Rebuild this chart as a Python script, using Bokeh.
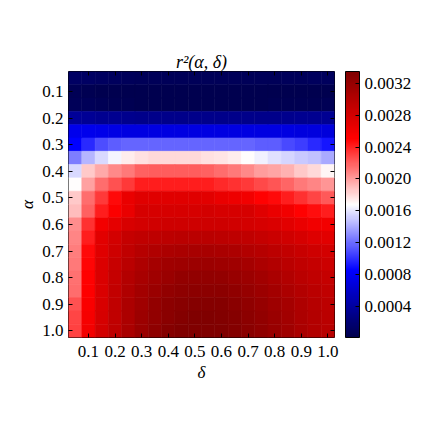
import numpy as np
import pandas as pd
from bokeh.plotting import figure
from bokeh.models import (ColumnDataSource, LinearColorMapper, ColorBar, FixedTicker,
                          PrintfTickFormatter, Range1d, LinearAxis)
from bokeh.transform import transform
from bokeh.embed import file_html
from bokeh.resources import INLINE

# ---- data ----
alphas = [0.05, 0.10, 0.15, 0.20, 0.25, 0.30, 0.35, 0.40, 0.45, 0.50,
          0.55, 0.60, 0.65, 0.70, 0.75, 0.80, 0.85, 0.90, 0.95, 1.00]
deltas = [0.05, 0.10, 0.15, 0.20, 0.25, 0.30, 0.35, 0.40, 0.45, 0.50,
          0.55, 0.60, 0.65, 0.70, 0.75, 0.80, 0.85, 0.90, 0.95, 1.00]
x_ticks = [0.1, 0.2, 0.3, 0.4, 0.5, 0.6, 0.7, 0.8, 0.9, 1.0]
y_ticks = [0.1, 0.2, 0.3, 0.4, 0.5, 0.6, 0.7, 0.8, 0.9, 1.0]
cbar_ticks = [0.0004, 0.0008, 0.0012, 0.0016, 0.0020, 0.0024, 0.0028, 0.0032]
cbar_low = 0.000005
cbar_high = 0.00335

# r^2 values in units of 1e-4, one row per alpha, one column per delta
r2_a005 = [1.2, 1.2, 1.0, 0.9, 0.8, 0.7, 0.6, 0.6, 0.6, 0.6, 0.6, 0.6, 0.6, 0.6, 0.7, 0.7, 0.8, 0.8, 0.9, 0.9]
r2_a010 = [0.5, 0.4, 0.3, 0.3, 0.2, 0.2, 0.2, 0.2, 0.2, 0.2, 0.2, 0.2, 0.2, 0.2, 0.2, 0.2, 0.2, 0.3, 0.3, 0.3]
r2_a015 = [0.7, 0.6, 0.5, 0.4, 0.4, 0.3, 0.3, 0.3, 0.3, 0.3, 0.3, 0.3, 0.3, 0.3, 0.3, 0.4, 0.4, 0.4, 0.4, 0.5]
r2_a020 = [3.6, 3.5, 3.3, 3.2, 3.1, 3.0, 3.0, 3.0, 3.0, 3.0, 3.0, 3.0, 3.0, 3.0, 3.0, 3.0, 3.1, 3.2, 3.3, 3.4]
r2_a025 = [7.6, 7.6, 7.4, 7.2, 7.1, 7.0, 7.0, 7.0, 7.0, 7.0, 7.0, 7.0, 7.0, 7.0, 7.0, 7.0, 7.0, 6.9, 6.9, 6.8]
r2_a030 = [8.5, 9.8, 11.0, 11.5, 11.8, 11.8, 11.8, 11.8, 11.8, 11.8, 11.8, 11.8, 11.8, 11.7, 11.5, 11.5, 10.8, 10.4, 9.8, 9.1]
r2_a035 = [12.5, 14.3, 15.5, 16.5, 17.3, 17.8, 18.0, 18.0, 18.0, 18.0, 17.8, 17.6, 17.3, 16.8, 16.3, 15.8, 15.4, 15.0, 14.7, 14.0]
r2_a040 = [15.5, 18.5, 19.6, 20.6, 21.2, 21.9, 22.1, 22.1, 22.1, 22.1, 21.9, 21.5, 21.2, 20.6, 20.0, 19.7, 19.3, 18.6, 18.0, 17.1]
r2_a045 = [16.8, 19.9, 21.6, 22.5, 23.3, 24.1, 24.1, 24.1, 24.1, 24.1, 24.1, 23.8, 23.5, 23.2, 22.7, 22.3, 21.8, 21.2, 20.8, 20.3]
r2_a050 = [18.6, 21.6, 23.2, 24.8, 26.5, 27.2, 27.2, 27.2, 27.2, 27.2, 27.0, 26.5, 26.2, 26.0, 25.1, 24.8, 24.1, 23.5, 22.8, 22.2]
r2_a055 = [18.9, 21.9, 24.1, 25.3, 26.5, 27.8, 27.8, 27.8, 27.8, 27.8, 28.0, 27.8, 27.8, 27.8, 27.2, 26.5, 26.0, 25.1, 24.7, 24.1]
r2_a060 = [20.5, 23.5, 25.8, 26.8, 27.7, 28.0, 28.2, 28.3, 28.3, 28.3, 28.3, 28.3, 28.2, 28.0, 27.8, 27.5, 27.0, 26.5, 26.0, 25.8]
r2_a065 = [20.8, 24.2, 27.0, 28.0, 28.8, 29.2, 29.4, 29.5, 29.6, 29.6, 29.6, 29.5, 29.4, 29.2, 28.9, 28.6, 28.2, 27.8, 27.3, 27.0]
r2_a070 = [21.0, 24.8, 27.2, 28.4, 29.3, 29.9, 30.3, 30.5, 30.7, 30.8, 30.8, 30.7, 30.5, 30.2, 29.9, 29.5, 29.1, 28.7, 28.3, 28.0]
r2_a075 = [21.2, 25.0, 27.4, 28.7, 29.7, 30.4, 30.9, 31.3, 31.5, 31.6, 31.6, 31.5, 31.3, 31.0, 30.6, 30.2, 29.7, 29.3, 28.9, 28.5]
r2_a080 = [21.4, 25.1, 27.5, 28.9, 30.0, 30.8, 31.4, 31.8, 32.1, 32.2, 32.2, 32.1, 31.9, 31.6, 31.2, 30.7, 30.2, 29.7, 29.3, 28.9]
r2_a085 = [21.6, 25.2, 27.6, 29.1, 30.3, 31.1, 31.8, 32.2, 32.5, 32.7, 32.7, 32.6, 32.4, 32.0, 31.6, 31.1, 30.6, 30.1, 29.6, 29.2]
r2_a090 = [22.5, 25.5, 27.7, 29.2, 30.5, 31.4, 32.1, 32.6, 32.9, 33.1, 33.1, 33.0, 32.8, 32.4, 32.0, 31.5, 31.0, 30.4, 29.9, 29.5]
r2_a095 = [22.8, 25.7, 27.8, 29.3, 30.6, 31.6, 32.3, 32.8, 33.2, 33.4, 33.4, 33.3, 33.1, 32.7, 32.3, 31.8, 31.2, 30.6, 30.1, 29.7]
r2_a100 = [23.0, 25.8, 27.9, 29.4, 30.7, 31.7, 32.5, 33.0, 33.4, 33.5, 33.5, 33.4, 33.2, 32.8, 32.4, 31.9, 31.3, 30.7, 30.2, 29.8]

r2_rows = [r2_a005, r2_a010, r2_a015, r2_a020, r2_a025, r2_a030, r2_a035, r2_a040,
           r2_a045, r2_a050, r2_a055, r2_a060, r2_a065, r2_a070, r2_a075, r2_a080,
           r2_a085, r2_a090, r2_a095, r2_a100]
R2_UNIT = 1e-4

# ---- seismic colormap ----
def seismic(n=256):
    stops = np.array([0.0, 0.25, 0.5, 0.75, 1.0])
    r = np.array([0.0, 0.0, 1.0, 1.0, 0.5])
    g = np.array([0.0, 0.0, 1.0, 0.0, 0.0])
    b = np.array([0.3, 1.0, 1.0, 0.0, 0.0])
    t = np.linspace(0, 1, n)
    rr, gg, bb = (np.interp(t, stops, c) for c in (r, g, b))
    return ["#%02x%02x%02x" % (int(round(a * 255)), int(round(c * 255)), int(round(d * 255)))
            for a, c, d in zip(rr, gg, bb)]

rows = []
for a, vals in zip(alphas, r2_rows):
    for d, v in zip(deltas, vals):
        rows.append({"alpha": a, "delta": d, "r2": v * R2_UNIT})
df = pd.DataFrame(rows)
src = ColumnDataSource(df)

mapper = LinearColorMapper(palette=seismic(), low=cbar_low, high=cbar_high)

SERIF = "Liberation Serif"
FS = "17px"

p = figure(width=424, height=424, output_backend="svg", toolbar_location=None,
           x_range=Range1d(0.025, 1.025), y_range=Range1d(1.025, 0.025),
           min_border_left=68, min_border_right=90, min_border_top=71, min_border_bottom=87,
           title="r²(α, δ)")
p.title.align = "center"
p.title.text_font = SERIF
p.title.text_font_style = "italic"
p.title.text_font_size = "18px"
p.title.text_color = "black"
p.title.standoff = 0

p.rect(x="delta", y="alpha", width=0.05, height=0.05, source=src,
       fill_color=transform("r2", mapper), line_color=transform("r2", mapper), line_width=0.6)

p.grid.visible = False
p.outline_line_color = "black"
p.outline_line_width = 1

for ax, ticks in ((p.xaxis[0], x_ticks), (p.yaxis[0], y_ticks)):
    ax.ticker = FixedTicker(ticks=ticks)
    ax.formatter = PrintfTickFormatter(format="%.1f")
    ax.major_tick_in = 4
    ax.major_tick_out = 0
    ax.minor_tick_line_color = None
    ax.axis_line_color = None
    ax.major_label_text_font = SERIF
    ax.major_label_text_font_size = FS
    ax.major_label_text_color = "black"
    ax.axis_label_text_font = SERIF
    ax.axis_label_text_font_size = FS
    ax.axis_label_text_font_style = "italic"
    ax.axis_label_text_color = "black"
    ax.major_tick_line_color = "black"

p.xaxis[0].axis_label = "δ"
p.yaxis[0].axis_label = "α"
p.xaxis[0].major_label_standoff = 8
p.yaxis[0].major_label_standoff = 5
p.xaxis[0].axis_label_standoff = 3
p.yaxis[0].axis_label_standoff = 2

# tick marks on top and right edges (labels not drawn)
top = LinearAxis(ticker=FixedTicker(ticks=x_ticks), major_tick_in=4, major_tick_out=0,
                 minor_tick_line_color=None, axis_line_color=None,
                 major_tick_line_color="black",
                 major_label_text_font_size="1px", major_label_text_color=None,
                 major_label_standoff=0)
right = LinearAxis(ticker=FixedTicker(ticks=y_ticks), major_tick_in=4, major_tick_out=0,
                   minor_tick_line_color=None, axis_line_color=None,
                   major_tick_line_color="black",
                   major_label_text_font_size="1px", major_label_text_color=None,
                   major_label_standoff=0)
# invisible spacer axis: leaves the gap between the image and the colour bar
spacer = LinearAxis(ticker=FixedTicker(ticks=y_ticks), major_tick_in=0, major_tick_out=11,
                    minor_tick_line_color=None, axis_line_color=None,
                    major_tick_line_color=None,
                    major_label_text_font_size="1px", major_label_text_color=None,
                    major_label_standoff=0)
p.add_layout(top, "above")
p.add_layout(right, "right")
p.add_layout(spacer, "right")

cb = ColorBar(color_mapper=mapper, ticker=FixedTicker(ticks=cbar_ticks),
              formatter=PrintfTickFormatter(format="%.4f"), width=14,
              padding=0, major_label_text_font=SERIF, major_label_text_font_size=FS,
              major_label_text_color="black",
              major_tick_in=4, major_tick_out=0, major_tick_line_color="black",
              minor_tick_line_color=None, bar_line_color="black", label_standoff=5,
              background_fill_color=None, border_line_color=None)
p.add_layout(cb, "right")

open("out.html", "w").write(file_html(p, INLINE))
